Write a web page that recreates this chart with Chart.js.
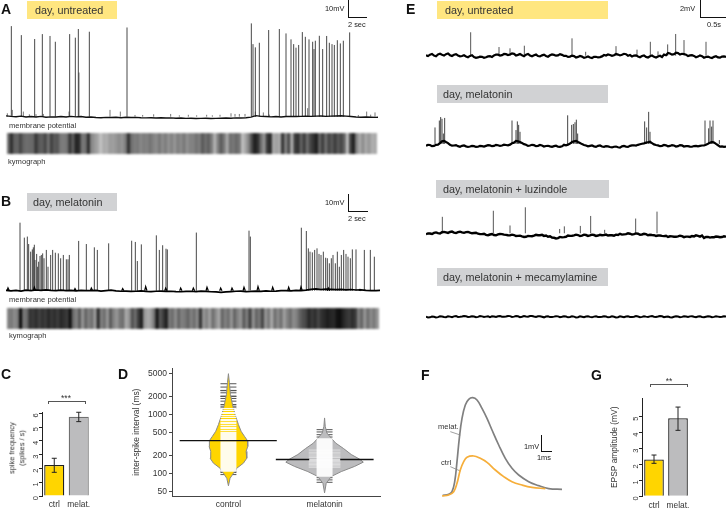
<!DOCTYPE html>
<html>
<head>
<meta charset="utf-8">
<title>melatonin recordings</title>
<script src="https://cdn.jsdelivr.net/npm/chart.js@4/dist/chart.umd.min.js"></script>
<style>
html,body{margin:0;padding:0;background:#fff;width:726px;height:512px;overflow:hidden}
body{position:relative;font-family:"Liberation Sans",Arial,sans-serif;color:#333}
canvas{position:absolute;display:block}
.t{position:absolute;white-space:nowrap;transform:translateY(-50%);line-height:1;will-change:transform}
.panel{font-size:14px;font-weight:bold;color:#111}
.pill{position:absolute;font-size:10.8px;line-height:18px;height:18px;color:#333;white-space:nowrap;will-change:transform}
.yel{background:#ffe680}
.gry{background:#d1d2d4}
.small{font-size:7.6px;color:#333}
.scale{font-size:7.4px;color:#222}
.bar{position:absolute;background:#111}
.br{position:absolute;border:1px solid #555;border-bottom:none;height:2px;box-sizing:content-box}
.stars{font-size:8.5px;color:#333;transform:translate(-50%,-50%)}
.vert{font-size:7.4px;color:#333;transform:translate(-50%,-50%) rotate(-90deg)}
</style>
</head>
<body>

<div class="t panel" style="left:1px;top:9px">A</div>
<div class="pill yel" style="left:27px;top:1px;width:82px;padding-left:8px">day, untreated</div>
<div class="t scale" style="left:325px;top:9px">10mV</div>
<div class="bar" style="left:348px;top:0;width:1px;height:18px"></div>
<div class="bar" style="left:348px;top:17px;width:19px;height:1px"></div>
<div class="t scale" style="left:348px;top:25px">2 sec</div>
<div class="t small" style="left:9px;top:126px">membrane potential</div>
<div class="t small" style="left:8px;top:162px">kymograph</div>

<div class="t panel" style="left:1px;top:201px">B</div>
<div class="pill gry" style="left:27px;top:193px;width:84px;padding-left:6px">day, melatonin</div>
<div class="t scale" style="left:325px;top:203px">10mV</div>
<div class="bar" style="left:348px;top:194px;width:1px;height:18px"></div>
<div class="bar" style="left:348px;top:211px;width:20px;height:1px"></div>
<div class="t scale" style="left:348px;top:219px">2 sec</div>
<div class="t small" style="left:9px;top:300px">membrane potential</div>
<div class="t small" style="left:9px;top:336px">kymograph</div>

<div class="t panel" style="left:1px;top:374px">C</div>
<div class="br" style="left:48px;top:401px;width:36px"></div>
<div class="t stars" style="left:66px;top:398px">***</div>
<div class="t vert" style="left:12px;top:448px">spike frequency</div>
<div class="t vert" style="left:22px;top:448px">(spikes / s)</div>

<div class="t panel" style="left:118px;top:374px">D</div>

<div class="t panel" style="left:406px;top:9px">E</div>
<div class="pill yel" style="left:437px;top:1px;width:163px;padding-left:8px">day, untreated</div>
<div class="t scale" style="left:680px;top:9px">2mV</div>
<div class="bar" style="left:700px;top:0;width:1px;height:18px"></div>
<div class="bar" style="left:700px;top:17px;width:26px;height:1px"></div>
<div class="t scale" style="left:707px;top:25px">0.5s</div>
<div class="pill gry" style="left:437px;top:85px;width:165px;padding-left:6px">day, melatonin</div>
<div class="pill gry" style="left:436px;top:180px;width:166px;padding-left:7px">day, melatonin + luzindole</div>
<div class="pill gry" style="left:437px;top:268px;width:165px;padding-left:6px">day, melatonin + mecamylamine</div>

<div class="t panel" style="left:421px;top:375px">F</div>
<div class="t small" style="left:438px;top:427px">melat.</div>
<div class="t small" style="left:441px;top:463px">ctrl</div>
<div class="t scale" style="left:524px;top:447px">1mV</div>
<div class="bar" style="left:541px;top:435px;width:1px;height:17px"></div>
<div class="bar" style="left:541px;top:451px;width:11px;height:1px"></div>
<div class="t scale" style="left:537px;top:458px">1ms</div>

<div class="t panel" style="left:591px;top:375px">G</div>
<div class="br" style="left:650px;top:384px;width:36px"></div>
<div class="t stars" style="left:669px;top:381px">**</div>

<canvas id="traceA" style="left:6px;top:20px" width="372" height="105"></canvas>
<canvas id="kymoA" style="left:7px;top:133px" width="370" height="21"></canvas>
<canvas id="traceB" style="left:6px;top:218px" width="374" height="80"></canvas>
<canvas id="kymoB" style="left:7px;top:308px" width="372" height="21"></canvas>
<canvas id="barC" style="left:6px;top:405px" width="85" height="107"></canvas>
<canvas id="violinD" style="left:132px;top:360px" width="249" height="152"></canvas>
<canvas id="traceE1" style="left:426px;top:28px" width="300" height="37"></canvas>
<canvas id="traceE2" style="left:426px;top:105px" width="300" height="55"></canvas>
<canvas id="traceE3" style="left:426px;top:200px" width="300" height="45"></canvas>
<canvas id="traceE4" style="left:426px;top:305px" width="300" height="25"></canvas>
<canvas id="epspF" style="left:442px;top:390px" width="120" height="110"></canvas>
<canvas id="barG" style="left:610px;top:390px" width="80" height="122"></canvas>

<script>
// panel A, membrane potential. time in frames, amplitude in mV
const spikeFramesA=[34,64,104,127,150,166,209,226,235,268,381,754,759,766,778,806,838,858,873,881,888,896,907,916,927,938,942,946,958,968,980,988,996,1003,1012,1021,1030,1049];
const spikeAmpsA=[53.3,48,45.7,48.6,47.5,44.1,48.6,46.5,51.6,50,52.5,54.9,42.7,40.8,43.5,51,51.6,49,45.5,42.7,40.6,42.2,49.8,47,45.5,44.1,39.8,44.7,47.6,39.8,47.5,43.5,42.7,42.2,45,43.1,44.7,49.6];
const minorFramesA=[22,37,70,88,108,130,207,237,330,361,405,428,461,512,538,565,590,620,637,660,693,705,718,735,766,790,808,923,1075,1100,1112,1125];
const minorAmpsA=[2,4,3,1.4,1.5,1.6,3,26,4,3,1,1,1.4,1.6,.8,1.1,.8,1.1,.8,1.1,2,1.6,1.6,1.6,3,2.5,1.2,5,1,3,1.2,2.5];
const baseA=[.5,.2,0,.3,-.2,.1,-.2,.2,-.3,-.1,-.2,.1,-.2,.2,-.1,.1,-.3,-.2,-.5,-.6,-.4,-.5,-.3,-.6,-.3,-.5,-.4,-.6,-.7,-.6,-.8,-.6,-.8,-.7,-.9,-.8,-1,-.9,-1.1,-1,-.9,-1.1,-1,-.9,-.8,-.9,-.7,-.8,-.6,-.3,.6,.2,.1,-.1,.1,-.2,.1,.2,.1,.2,.3,.2,.3,.4,.2,.3,.4,.5,.3,.1,-.2,-.3,-.2,-.3,-.4,-.3];

// panel B
const spikeFramesB=[60,73,82,86,92,97,100,103,105,110,113,116,120,124,128,132,139,144,152,158,166,175,182,190,199,204,208,236,259,283,292,326,395,406,412,424,469,478,488,498,502,589,747,751,904,919,925,930,937,944,951,957,963,970,977,982,988,994,999,1006,1012,1018,1024,1031,1038,1044,1051,1057,1068,1093,1111,1123];
const spikeAmpsB=[39.2,30.6,31.2,26.9,22.5,23.8,25,26.5,17.7,21.2,13.8,16.7,20,20.6,21.5,18.7,23.5,13.8,20.6,23.5,21.9,21.5,18.7,20.6,18.1,18.1,20.6,28.7,26.9,25,23.5,27.3,28.8,28.1,17.1,26.7,31.9,23.5,26.2,24.2,23.8,33.5,34.6,31.2,36.3,34.4,24.4,22.5,22.1,23.5,24.4,21.2,20.6,22.5,19,18.7,15.8,18.7,20.6,15.8,22.5,13.8,20.6,23.5,21.2,19.6,18.7,23.8,23.8,23.5,23.5,19.6];
const bumpFramesB=[24,103,225,274,368,437,497,542,580,621,662,696,732,774,818,866,903,985,1080];
const bumpAmpsB=[1.7,2,1.3,1.6,1.3,2.4,1.6,1.6,1.6,2,1.6,1.6,2,2.4,2,2,2.2,1.6,.8];
const baseB=[.2,-.1,.2,-.2,.3,.1,.4,.2,.5,.2,.1,.3,0,.2,-.1,.2,0,.1,.2,-.2,.1,.3,-.1,-.3,-.2,-.4,-.3,-.1,-.4,-.5,-.3,-.2,-.4,-.3,-.5,-.6,-.4,-.3,-.5,-.2,-.4,-.6,-.7,-.9,-.7,-.5,-.3,-.2,-.5,-.4,-.2,-.4,-.1,-.3,-.2,0,.1,-.1,.2,0,.3,.8,1,.7,.9,.8,.6,.8,.5,.7,.4,.5,.2,0,.1,.2,-.1,.1];

// kymographs, grey level per column
const kymoA=[110,45,95,100,70,100,110,105,105,55,90,95,70,115,65,90,85,120,125,115,55,95,35,45,120,115,45,135,150,165,195,170,175,155,160,150,140,150,125,50,110,125,120,135,125,130,115,130,140,120,140,125,145,130,150,125,140,120,145,130,130,115,125,90,110,95,125,180,130,90,120,170,110,120,105,120,190,165,130,70,30,50,110,150,60,40,170,160,170,50,130,70,180,60,50,100,60,110,70,50,30,100,60,110,70,90,60,90,70,100,190,70,30,130,170,140,170,150,175,170];
const kymoB=[130,120,140,125,10,120,110,50,60,45,65,50,60,40,55,45,60,40,50,60,15,110,130,90,150,100,130,110,160,40,130,110,150,90,130,150,120,110,170,150,80,110,60,30,150,170,160,120,20,90,60,30,120,110,140,100,130,120,100,130,110,140,50,150,130,160,110,140,170,100,130,110,150,100,130,150,90,130,60,150,100,120,70,150,120,170,110,140,110,160,130,110,140,130,100,80,70,40,60,45,70,50,40,30,35,40,20,15,35,50,60,45,60,130,100,150,110,140,120,150];

// panel C
const catsBar=['ctrl','melat.'];
const freqMeans=[2.25,5.76];
const freqLow=[1.72,5.4];
const freqHigh=[2.74,6.08];
const freqTicks=[0,1,2,3,4,5,6];

// panel D, inter-spike intervals in ms
const isiCats=['control','melatonin'];
const isiTicks=[50,100,200,500,1000,2000,5000];
const isiMedians=[361,173];
const ctrlEdgeIsi=[4935,3467,2188,1480,1000,676,520,427,361,288,237,182,150,123,101,83,62];
const ctrlEdgeHalf=[0,.01,.021,.042,.069,.104,.132,.167,.198,.201,.184,.191,.156,.087,.052,.017,0];
const melEdgeIsi=[877,632,486,400,329,265,210,175,156,132,108,89,68,47];
const melEdgeHalf=[0,.007,.024,.069,.115,.198,.278,.365,.403,.312,.174,.069,.017,0];
const ctrlGrey=[3330,2925,2565,2540,2340,2053,2030,1874,1687,1480,1387,1299,115,108,104,96];
const melGrey=[555,507,456,416,85,78,71];
const ctrlWhite=[110,115,119,124,129,134,140,145,151,157,163,170,177,184,191,199,207,215,224,233,242,252,262,273,284,295,307,319,332,345,375,390,406,422,439,457,475,494,534,578,600,650,700,730,790,820,890,960,1040,1080,1170,1260];
const melWhite=[390,375,360,346,332,319,307,295,284,273,262,252,242,233,224,215,207,199,191,184,177,170,163,157,151,145,140,134,129,124,119,115,110,106,102,98,94,90];
const melPale=[250,230,215,198,186,172,165,158,150,143,135,128];

// panel E, amplitude in mV, baseline readings every 6 frames from frame 48
const spikeFramesE1=[182,267,300,343,486,527,618,681,721,744,773,797,822,888];
const spikeAmpsE1=[2.7,1,.85,1.15,2,.45,1.1,.7,1.6,.5,1.3,2.5,1.8,1.6];
const baseE1=[.05,.12,.02,.15,.1,.18,.06,.11,.03,-.03,-.08,-.02,-.15,-.2,-.13,-.17,-.05,.03,.12,.07,.18,.14,.22,.1,.05,.12,.03,.06,-.04,.04,-.03,.05,.09,.04,.1,-.02,-.1,-.05,-.14,-.1,-.17,-.2,-.13,-.2,-.08,.02,.08,.05,.13,.1,.17,.08,.02,-.09,-.04,-.14,-.06,-.13,-.08,-.15,.05,.25,.18,.3,.22,.12,.03,-.02,-.1,-.05,-.15,-.2,-.13,-.19,-.1,-.14];
const midE1=[-.04,.2,-.06,.22,.02,.26,-.03,.18,-.07,.06,-.17,.06,-.24,-.11,-.24,-.08,-.14,.13,.02,.2,.08,.26,.03,.19,-.05,.2,-.06,.13,-.08,.12,-.12,.14,0,.18,-.03,-.14,.01,-.2,-.03,-.25,-.08,-.26,-.12,-.16,.08,.14,-.02,.2,.03,.22,0,-.08,.04,-.18,.03,-.2,.02,-.2,0,.14,.32,.12,.34,.13,.2,-.05,.06,-.18,.04,-.23,-.1,-.26,-.06,-.22,-.08];
const spikeFramesE2=[75,88,92,96,100,104,306,318,322,326,330,473,485,490,495,499,503,704,710,716,720,885,896,900,905,909,928];
const spikeAmpsE2=[2.1,2.9,3.3,3.1,1.4,3.2,2.9,1.8,2.8,2.4,1.6,3.5,2.4,2.5,2.7,3,1.4,2.8,2.1,3.9,1.6,2.9,2,2.9,2.2,2.9,.65];
const baseE2=[0,.08,-.03,.12,.5,.42,.1,.02,-.05,-.02,-.08,-.1,-.05,-.12,-.06,-.02,.03,-.03,.05,.02,.08,.12,.35,.5,.3,.1,.02,.06,-.02,.03,-.04,-.08,-.05,-.12,-.07,.04,.25,.5,.42,.18,.02,-.03,-.08,-.02,-.1,-.06,-.15,-.12,-.18,-.08,-.1,-.02,.05,.1,.22,.35,.45,.15,.03,-.02,.04,-.03,.02,-.05,.03,-.06,-.1,-.04,-.08,.02,.12,.35,.38,.05,-.08,-.1];
const midE2=[.09,-.06,.1,.3,.56,.3,0,.07,-.12,.02,-.15,-.02,-.14,-.02,-.1,.06,-.06,.1,-.03,.12,.04,.28,.55,.42,.18,-.03,.1,-.06,.08,-.1,-.01,-.13,0,-.14,.1,.12,.42,.55,.3,.08,-.08,.02,-.14,.03,-.14,-.08,-.2,-.1,-.22,-.03,-.14,.03,.02,.16,.27,.4,.3,.08,-.06,.08,-.07,.07,-.1,.07,-.1,-.05,-.12,-.02,-.03,.02,.22,.44,.2,-.1,-.14];
const spikeFramesE3=[97,250,300,346,449,463,511,542,584,677,741];
const spikeAmpsE3=[1.9,2.6,.9,3,.5,.8,.85,2,.4,1.7,2.5];
const baseE3=[-.1,-.03,.05,.02,.12,.1,.15,.08,.14,.1,.13,.07,.03,-.05,-.1,-.18,-.14,-.2,-.13,-.1,-.18,-.24,-.2,-.3,-.35,-.4,-.33,-.28,-.22,-.18,-.26,-.35,-.52,-.55,-.47,-.4,-.3,-.24,-.2,-.27,-.2,-.25,-.2,-.26,-.22,-.15,-.22,-.27,-.2,-.15,-.1,-.05,-.1,-.05,-.14,-.1,-.17,-.22,-.25,-.3,-.28,-.35,-.4,-.36,-.32,-.38,-.42,-.36,-.3,-.25,-.42,-.5,-.45,-.4,-.43,-.38];
const midE3=[-.02,-.08,.1,-.02,.16,.04,.2,.03,.18,.05,.16,0,.06,-.1,-.05,-.22,-.08,-.24,-.08,-.16,-.22,-.16,-.32,-.27,-.42,-.3,-.34,-.18,-.22,-.3,-.4,-.5,-.6,-.42,-.44,-.26,-.28,-.16,-.32,-.16,-.3,-.16,-.3,-.18,-.2,-.26,-.22,-.16,-.06,-.12,0,-.14,-.01,-.18,-.06,-.22,-.2,-.3,-.26,-.33,-.42,-.36,-.4,-.28,-.44,-.38,-.32,-.24,-.38,-.54,-.42,-.45,-.38,-.46,-.35];
const baseE4=[.02,-.04,.03,-.02,.05,-.03,.04,.07,0,.05,.08,.03,.06,.01,.07,.04,-.01,.05,.09,.03,.06,.1,.04,.08,.02,.06,.1,.05,.08,.03,.06,-.01,.04,.07,.02,.05,0,.04,-.02,.03,.06,.01,.04,-.01,.03,.05,0,.03,-.03,.02,.05,0,.03,.06,.01,.04,.07,.02,.05,.08,.02,-.02,.03,.06,.01,.05,.07,.02,.05,0,.03,.06,.01,.04,.02,.05];
const midE4=[-.05,.06,-.06,.07,0,.08,-.03,.1,.02,.1,0,.09,-.03,.1,0,.08,.08,0,.1,.02,.12,0,.1,-.02,.11,.02,.11,0,.09,-.04,.08,0,.09,-.02,.08,-.04,.07,-.05,.08,-.02,.08,-.04,.07,0,.08,-.04,.07,-.06,.07,-.03,.07,-.01,.1,-.02,.09,0,.1,0,.11,-.03,.06,-.05,.09,-.02,.09,0,.08,-.02,.07,-.04,.09,-.02,.08,-.01,.08];

// panel F, time in ms, amplitude in mV
const melatT=[.07,.67,1,1.27,1.5,1.73,2,2.33,2.67,3.07,3.5,4,4.5,5,5.67,6.33,7,7.67,8.67,9.67,10.67,12];
const melatV=[.04,.1,.26,.86,2.06,3.46,4.66,5.46,5.8,5.9,5.76,5.26,4.66,3.96,3.06,2.26,1.66,1.26,.86,.62,.44,.4];
const ctrlT=[0,.67,1.17,1.5,1.83,2.17,2.5,3.17,3.83,4.5,5.33,6.17,7,8,9,10.33];
const ctrlV=[0,.06,.26,.76,1.56,2.06,2.32,2.4,2.26,2.02,1.56,1.16,.86,.66,.52,.44];

// panel G
const epspMeans=[2.31,4.9];
const epspLow=[2.07,4.14];
const epspHigh=[2.59,5.6];
const epspTicks=[0,1,2,3,4,5];

const YEL='#ffd500', GREY='#bcbcbe';
Chart.defaults.font.family='"Liberation Sans",Arial,sans-serif';
Chart.defaults.animation=false;
Chart.defaults.responsive=false;
Chart.defaults.events=[];
Chart.defaults.plugins.legend.display=false;
Chart.defaults.plugins.tooltip.enabled=false;

const xy=(xs,ys)=>xs.map((x,i)=>({x,y:ys[i]}));
const stepped=(arr,start,step)=>arr.map((y,i)=>({x:start+i*step,y}));
const weave=(a,b)=>a.flatMap((v,i)=>i<b.length?[v,b[i]]:[v]);
// vertical stroke for each spike, null breaks the line
function spikePts(fr,amp,base){
 const out=[];
 fr.forEach((t,i)=>{out.push({x:t,y:base},{x:t,y:amp[i]},{x:t,y:null});});
 return out;
}
function bumpPts(fr,amp){
 const out=[];
 fr.forEach((t,i)=>{out.push({x:t-3,y:0},{x:t,y:amp[i]},{x:t+4,y:0},{x:t,y:null});});
 return out;
}
// horizontal stroke for each interval
function rungPts(isi,cx,half){
 const out=[];
 isi.forEach(v=>{out.push({x:cx-half,y:v},{x:cx+half,y:v},{x:cx,y:null});});
 return out;
}
function edgePts(isi,half,cx){
 const r=isi.map((v,i)=>({x:cx+half[i],y:v}));
 const l=isi.map((v,i)=>({x:cx-half[i],y:v})).reverse();
 return r.concat(l);
}
const lineDs=(data,color,width,extra)=>Object.assign({data,showLine:true,borderColor:color,borderWidth:width,pointRadius:0,tension:0,spanGaps:false},extra||{});

function traceChart(id,xr,yr,datasets){
 return new Chart(document.getElementById(id),{
  type:'scatter',
  data:{datasets},
  options:{
   layout:{padding:0},
   scales:{
    x:{type:'linear',display:false,min:xr[0],max:xr[1]},
    y:{type:'linear',display:false,min:yr[0],max:yr[1]}
   }
  }
 });
}

traceChart('traceA',[18,1134],[-4.9,56.9],[
 lineDs(stepped(baseA,18,15),'#111',1.4),
 lineDs(spikePts(spikeFramesA,spikeAmpsA,0),'#333',.9),
 lineDs(spikePts(minorFramesA,minorAmpsA,0),'#555',.8)
]);
traceChart('traceB',[18,1140],[-4.2,41.9],[
 lineDs(stepped(baseB,18,15),'#000',1.7),
 lineDs(bumpPts(bumpFramesB,bumpAmpsB),'#000',1.2),
 lineDs(spikePts(spikeFramesB,spikeAmpsB,0),'#333',.9)
]);
traceChart('traceE1',[48,948],[-1.07,3.19],[
 lineDs(stepped(weave(baseE1,midE1),48,6),'#000',2.2),
 lineDs(spikePts(spikeFramesE1,spikeAmpsE1,0),'#444',.9)
]);
traceChart('traceE2',[48,948],[-1.65,4.69],[
 lineDs(stepped(weave(baseE2,midE2),48,6),'#000',2.2),
 lineDs(spikePts(spikeFramesE2,spikeAmpsE2,.2),'#444',1)
]);
traceChart('traceE3',[48,948],[-1.35,3.84],[
 lineDs(stepped(weave(baseE3,midE3),48,6),'#000',2.4),
 lineDs(spikePts(spikeFramesE3,spikeAmpsE3,0),'#444',.9)
]);
traceChart('traceE4',[48,948],[-1.5,1.38],[
 lineDs(stepped(weave(baseE4,midE4),48,6),'#000',2)
]);

function kymoChart(id,levels){
 const el=document.getElementById(id);
 el.style.filter='blur(0.8px)';
 return new Chart(el,{
  type:'bar',
  data:{labels:levels.map((_,i)=>i),datasets:[{
   data:levels.map(()=>1),
   backgroundColor:levels.map(g=>`rgb(${g},${g},${g})`),
   barPercentage:1,categoryPercentage:1,borderWidth:0
  }]},
  options:{scales:{x:{display:false},y:{display:false,min:0,max:1}}}
 });
}
kymoChart('kymoA',kymoA);
kymoChart('kymoB',kymoB);

// error bars read from the dataset and placed with the value scale
const errorBars={
 id:'errorBars',
 afterDatasetsDraw(chart){
  const ds=chart.data.datasets[0],y=chart.scales.y,c=chart.ctx;
  chart.getDatasetMeta(0).data.forEach((b,i)=>{
   const a=y.getPixelForValue(ds.errLow[i]),z=y.getPixelForValue(ds.errHigh[i]);
   c.save();
   c.strokeStyle='#222';c.lineWidth=1;
   c.beginPath();
   c.moveTo(b.x,a);c.lineTo(b.x,z);
   c.moveTo(b.x-2.5,a);c.lineTo(b.x+2.5,a);
   c.moveTo(b.x-2.5,z);c.lineTo(b.x+2.5,z);
   c.stroke();
   c.restore();
  });
 }
};

function barChart(id,o){
 return new Chart(document.getElementById(id),{
  type:'bar',
  plugins:[errorBars],
  data:{labels:catsBar,datasets:[{
   data:o.values,errLow:o.low,errHigh:o.high,
   backgroundColor:[YEL,GREY],borderColor:o.border,borderWidth:1.3,
   barPercentage:.82,categoryPercentage:1
  }]},
  options:{
   layout:{padding:{top:o.top,right:0,left:0,bottom:0}},
   scales:{
    x:{
     grid:{display:false,drawTicks:false},border:{display:false},
     ticks:{font:{size:8.4},color:'#333',padding:4,maxRotation:0,autoSkip:false},
     afterFit(s){s.height=o.xh;s.paddingLeft=0;s.paddingRight=0;}
    },
    y:{
     min:0,max:o.max,
     afterBuildTicks(s){s.ticks=o.ticks.map(v=>({value:v}));},
     grid:{drawOnChartArea:false,tickLength:3,color:'#222'},
     border:{color:'#222',width:1},
     ticks:{font:{size:7.5},color:'#333',padding:3,minRotation:90,maxRotation:90,callback:v=>String(v)},
     title:{display:!!o.title,text:o.title,font:{size:8.4},color:'#333',padding:0},
     afterFit(s){s.width=o.yw;s.paddingTop=0;s.paddingBottom=0;}
    }
   }
  }
 });
}
barChart('barC',{values:freqMeans,low:freqLow,high:freqHigh,border:['#222','#707070'],top:7,xh:16,yw:36,max:6.1,ticks:freqTicks,title:''});
barChart('barG',{values:epspMeans,low:epspLow,high:epspHigh,border:['#222','#222'],top:8.3,xh:15.7,yw:32,max:6.15,ticks:epspTicks,title:'EPSP amplitude (mV)'});

// fills a closed outline with the positions the scatter dataset already has
const shapeFill={
 id:'shapeFill',
 beforeDatasetDraw(chart,args){
  const ds=chart.data.datasets[args.index];
  if(!ds.shapeColor) return;
  const c=chart.ctx,pts=args.meta.data;
  c.save();
  c.fillStyle=ds.shapeColor;
  c.beginPath();
  pts.forEach((p,i)=>{i?c.lineTo(p.x,p.y):c.moveTo(p.x,p.y);});
  c.closePath();
  c.fill();
  c.restore();
 }
};

new Chart(document.getElementById('violinD'),{
 type:'scatter',
 plugins:[shapeFill],
 data:{datasets:[
  lineDs(rungPts(ctrlGrey,1,.083),'#555',1,{order:9}),
  lineDs(rungPts(melGrey,2,.083),'#555',1,{order:9}),
  lineDs(edgePts(ctrlEdgeIsi,ctrlEdgeHalf,1),'#8a8a8a',1,{order:8,shapeColor:YEL}),
  lineDs(edgePts(melEdgeIsi,melEdgeHalf,2),'#8a8a8a',1,{order:8,shapeColor:GREY}),
  lineDs(rungPts(melPale,2,.165),'rgba(255,255,255,.55)',1,{order:7}),
  lineDs(rungPts(ctrlWhite,1,.083),'rgba(255,255,255,.92)',1.1,{order:6}),
  lineDs(rungPts(melWhite,2,.083),'rgba(255,255,255,.92)',1.1,{order:6}),
  lineDs([{x:.493,y:isiMedians[0]},{x:1.503,y:isiMedians[0]}],'#111',1.3,{order:5}),
  lineDs([{x:1.493,y:isiMedians[1]},{x:1.84,y:isiMedians[1]},{x:1.84,y:null},{x:2.163,y:isiMedians[1]},{x:2.51,y:isiMedians[1]}],'#111',1.3,{order:5})
 ]},
 options:{
  layout:{padding:{top:8.3,right:0,left:0,bottom:0}},
  scales:{
   x:{
    type:'linear',min:.413,max:2.587,
    afterBuildTicks(s){s.ticks=[{value:1},{value:2}];},
    grid:{display:false,drawTicks:false},
    border:{color:'#444',width:1},
    ticks:{font:{size:8.4},color:'#333',padding:4,maxRotation:0,autoSkip:false,callback:v=>isiCats[v-1]},
    afterFit(s){s.height=16;s.paddingLeft=0;s.paddingRight=0;}
   },
   y:{
    type:'logarithmic',min:41.6,max:6087,
    afterBuildTicks(s){s.ticks=isiTicks.map(v=>({value:v}));},
    grid:{drawOnChartArea:false,tickLength:3,color:'#444'},
    border:{color:'#444',width:1},
    ticks:{font:{size:8.5},color:'#333',padding:2,callback:v=>String(v)},
    title:{display:true,text:'inter-spike interval (ms)',font:{size:8.4},color:'#333',padding:0},
    afterFit(s){s.width=40;s.paddingTop=0;s.paddingBottom=0;}
   }
  }
 }
});

new Chart(document.getElementById('epspF'),{
 type:'scatter',
 data:{datasets:[
  lineDs(xy(ctrlT,ctrlV),'#f6ae3a',1.7,{tension:.4,order:1}),
  lineDs(xy(melatT,melatV),'#808080',1.7,{tension:.4,order:2}),
  lineDs([{x:.83,y:3.86},{x:1.83,y:3.66}],'#777',.7,{order:3}),
  lineDs([{x:.83,y:1.76},{x:1.83,y:1.5}],'#777',.7,{order:3})
 ]},
 options:{
  scales:{
   x:{type:'linear',display:false,min:0,max:12},
   y:{type:'linear',display:false,min:-.24,max:6.36}
  }
 }
});
</script>
</body>
</html>
